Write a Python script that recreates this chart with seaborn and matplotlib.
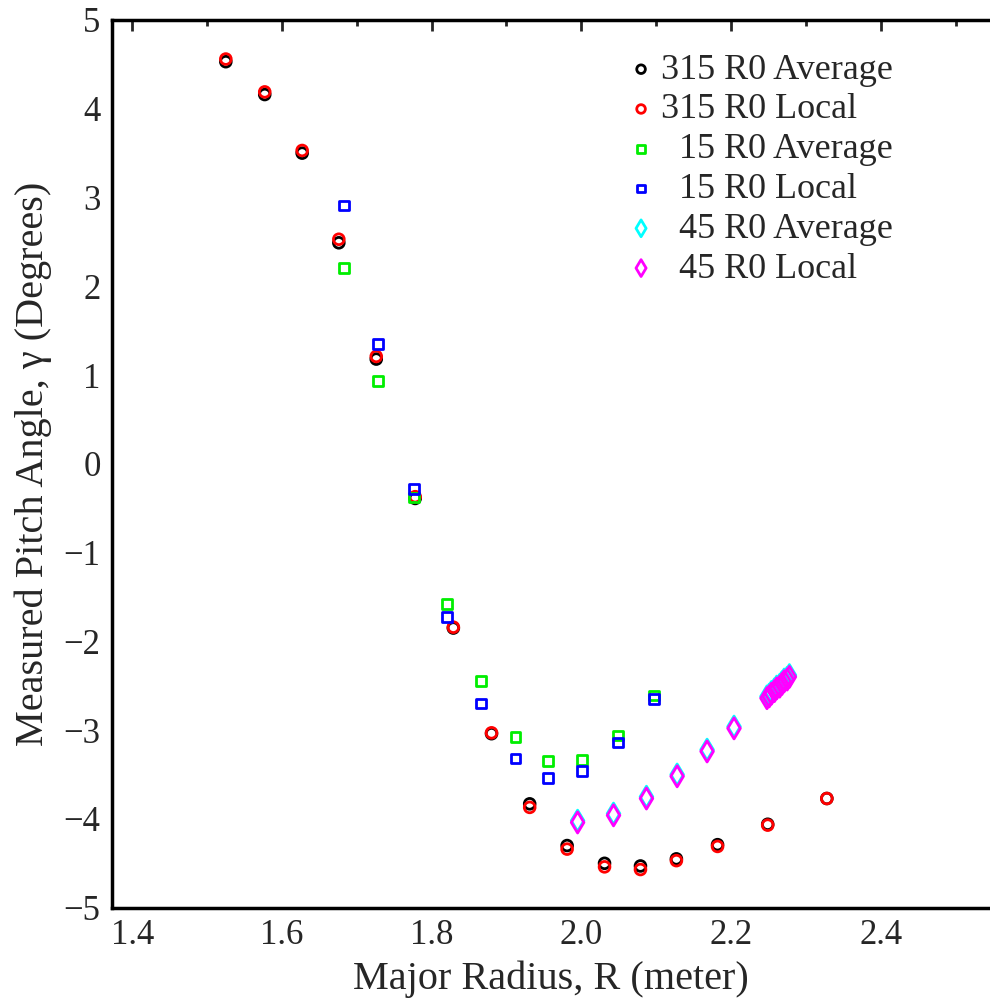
import matplotlib
matplotlib.use("Agg")
import matplotlib.pyplot as plt
import seaborn as sns
import pandas as pd
from matplotlib.ticker import MultipleLocator

# ---------------- data ----------------
r315 = [1.525, 1.577, 1.627, 1.676, 1.726, 1.778, 1.829, 1.880, 1.931, 1.981,
        2.031, 2.079, 2.127, 2.182, 2.249, 2.328]
avg315 = [4.53, 4.16, 3.50, 2.49, 1.18, -0.39, -1.85, -3.04, -3.83, -4.30,
          -4.50, -4.53, -4.45, -4.29, -4.06, -3.77]
loc315 = [4.56, 4.19, 3.53, 2.53, 1.21, -0.37, -1.84, -3.03, -3.87, -4.34,
          -4.54, -4.57, -4.47, -4.31, -4.07, -3.77]

r15 = [1.683, 1.728, 1.776, 1.821, 1.866, 1.912, 1.956, 2.001, 2.049, 2.097]
avg15 = [2.21, 0.93, -0.38, -1.58, -2.45, -3.08, -3.35, -3.34, -3.06, -2.61]
loc15 = [2.91, 1.35, -0.28, -1.73, -2.70, -3.32, -3.54, -3.46, -3.14, -2.65]

r45 = [1.995, 2.043, 2.087, 2.128, 2.168, 2.204, 2.248, 2.251, 2.254, 2.258,
       2.261, 2.265, 2.268, 2.271, 2.275, 2.278]
avg45 = [-4.02, -3.94, -3.75, -3.50, -3.22, -2.96, -2.62, -2.60, -2.57, -2.54,
         -2.51, -2.49, -2.46, -2.43, -2.41, -2.38]
loc45 = [-4.04, -3.96, -3.77, -3.52, -3.24, -2.98, -2.64, -2.62, -2.59, -2.56,
         -2.53, -2.51, -2.48, -2.45, -2.43, -2.40]

labels = ["315 R0 Average", "315 R0 Local", "  15 R0 Average",
          "  15 R0 Local", "  45 R0 Average", "  45 R0 Local"]
colors = ["black", "red", "#00ee00", "blue", "cyan", "magenta"]
markers = ["o", "o", "s", "s", "d", "d"]
sizes = [60, 60, 50, 50, 115, 115]

series = [(r315, avg315), (r315, loc315), (r15, avg15), (r15, loc15),
          (r45, avg45), (r45, loc45)]

# ---------------- plot ----------------
sns.set_style("white")
plt.rcParams["font.family"] = ["Liberation Serif", "DejaVu Serif"]
plt.rcParams["mathtext.fontset"] = "stix"

fig = plt.figure(figsize=(9.9, 9.99), dpi=100)
ax = fig.add_axes([0.1128, 0.0914, 1.0 - 0.1128, 0.98 - 0.0914])

for (xs, ys), lab, c, m, s in zip(series, labels, colors, markers, sizes):
    df = pd.DataFrame({"R": xs, "gamma": ys})
    sns.scatterplot(data=df, x="R", y="gamma", ax=ax, marker=m, s=s,
                    facecolors="none", edgecolor=c, linewidth=2.0,
                    label=lab, zorder=3)

ax.set_xlim(1.3725, 2.546)
ax.set_ylim(-5, 5)

ax.xaxis.set_major_locator(MultipleLocator(0.2))
ax.xaxis.set_minor_locator(MultipleLocator(0.1))
ax.yaxis.set_major_locator(MultipleLocator(1))
ax.yaxis.set_minor_locator(MultipleLocator(0.2))
ax.set_xticks([1.4, 1.6, 1.8, 2.0, 2.2, 2.4])
ax.set_xticklabels(["1.4", "1.6", "1.8", "2.0", "2.2", "2.4"])
ax.set_yticks(range(-5, 6))
ax.set_yticklabels([("\u2212" + str(-v)) if v < 0 else str(v) for v in range(-5, 6)])

ax.tick_params(which="major", direction="in", length=8, width=2,
               top=True, right=False, labelsize=25, pad=8)
ax.tick_params(which="minor", direction="in", length=4, width=2,
               top=True, right=False)

for side in ["left", "bottom", "top"]:
    ax.spines[side].set_linewidth(2.5)
    ax.spines[side].set_color("black")
ax.spines["right"].set_visible(False)

ax.set_xlabel("Major Radius, R (meter)", fontsize=29, labelpad=6)
ax.set_ylabel("Measured Pitch Angle, \u03b3 (Degrees)", fontsize=29, labelpad=8)

leg = ax.legend(loc="upper left", bbox_to_anchor=(0.622, 0.961),
                bbox_transform=fig.transFigure, frameon=False, fontsize=26,
                handlelength=0.6, handletextpad=0.25, labelspacing=0.18,
                markerscale=0.8, borderaxespad=0)

fig.savefig("out.png", dpi=100)
